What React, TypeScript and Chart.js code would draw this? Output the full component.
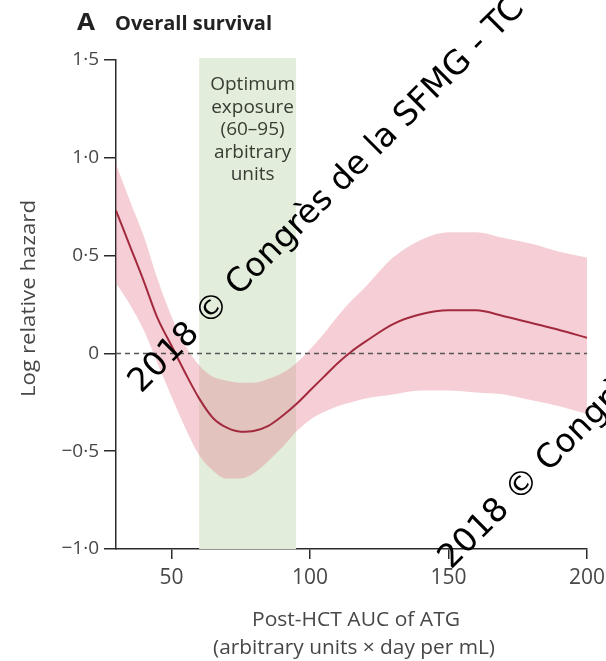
import { useEffect, useRef } from "react";
import { Chart, registerables } from "chart.js";

Chart.register(...registerables);

// Post-HCT ATG exposure (AUC) grid
const auc = [30, 35, 40, 45, 50, 55, 60, 65, 70, 75, 80, 85, 90, 95, 100, 105, 110, 115, 120, 130, 140, 150, 160, 170, 180, 190, 200];
// Log relative hazard estimate
const logHazard = [0.73, 0.55, 0.37, 0.18, 0.04, -0.1, -0.23, -0.33, -0.38, -0.4, -0.395, -0.37, -0.32, -0.26, -0.19, -0.12, -0.05, 0.01, 0.06, 0.15, 0.2, 0.22, 0.22, 0.19, 0.155, 0.12, 0.08];
// 95% confidence band
const upperCI = [0.97, 0.78, 0.6, 0.38, 0.19, 0.04, -0.06, -0.12, -0.14, -0.15, -0.15, -0.13, -0.1, -0.05, 0.02, 0.1, 0.19, 0.27, 0.34, 0.49, 0.58, 0.62, 0.62, 0.59, 0.56, 0.52, 0.49];
const lowerCI = [0.36, 0.25, 0.12, -0.05, -0.22, -0.38, -0.52, -0.6, -0.64, -0.64, -0.61, -0.55, -0.48, -0.4, -0.34, -0.3, -0.27, -0.25, -0.23, -0.21, -0.19, -0.19, -0.2, -0.21, -0.24, -0.27, -0.31];

const xTicks = [50, 100, 150, 200];
const yTicks = [-1, -0.5, 0, 0.5, 1, 1.5];
const yTickLabels = ["−1·0", "−0·5", "0", "0·5", "1·0", "1·5"];
const optimumRange = [60, 95];
const optimumLabel = ["Optimum", "exposure", "(60–95)", "arbitrary", "units"];

const panelLetter = "A";
const panelTitle = "Overall survival";
const yTitle = "Log relative hazard";
const xTitle = ["Post-HCT AUC of ATG", "(arbitrary units × day per mL)"];
const watermark = "2018 © Congrès de la SFMG - TC";

const FONT = "'Open Sans', Lato, sans-serif";
const AXIS_COLOR = "#2b2b2b";
const TEXT_COLOR = "#474747";

const pts = (ys: number[]) => auc.map((x, i) => ({ x, y: ys[i] }));

// draw a string squeezed/stretched horizontally to a given width
function fitText(ctx: CanvasRenderingContext2D, text: string, x: number, y: number, width: number) {
  const w = ctx.measureText(text).width;
  ctx.save();
  ctx.translate(x, y);
  ctx.scale(width / w, 1);
  ctx.fillText(text, 0, 0);
  ctx.restore();
}

const decorations = {
  id: "decorations",
  beforeDatasetsDraw(chart: any) {
    const { ctx, scales, chartArea } = chart;
    const x = scales.x;
    const x0 = x.getPixelForValue(optimumRange[0]);
    const x1 = x.getPixelForValue(optimumRange[1]);
    ctx.save();
    ctx.fillStyle = "#e3eddc";
    ctx.fillRect(x0, chartArea.top - 2, x1 - x0, chartArea.bottom - chartArea.top + 2);
    ctx.fillStyle = "#383d34";
    ctx.font = `19px ${FONT}`;
    ctx.textAlign = "center";
    ctx.textBaseline = "alphabetic";
    const cx = (x0 + x1) / 2 + 5;
    optimumLabel.forEach((t, i) => ctx.fillText(t, cx, 90 + i * 22.5));
    ctx.restore();
  },
  afterDraw(chart: any) {
    const { ctx } = chart;
    ctx.save();
    // panel heading
    ctx.fillStyle = "#222";
    ctx.textBaseline = "alphabetic";
    ctx.textAlign = "left";
    ctx.font = `bold 23px ${FONT}`;
    fitText(ctx, panelLetter, 77, 30, 18);
    ctx.font = `bold 20px ${FONT}`;
    fitText(ctx, panelTitle, 115, 30, 157);

    // axis titles
    ctx.fillStyle = TEXT_COLOR;
    ctx.font = `20px ${FONT}`;
    ctx.textAlign = "center";
    ctx.save();
    ctx.translate(35, 298.5);
    ctx.rotate(-Math.PI / 2);
    fitText(ctx, yTitle, 0, 0, 197);
    ctx.restore();
    ctx.font = `20px ${FONT}`;
    fitText(ctx, xTitle[0], 356, 626, 208);
    fitText(ctx, xTitle[1], 354, 654, 282);

    // diagonal watermark
    ctx.fillStyle = "#000";
    ctx.font = "33px 'DejaVu Sans'";
    ctx.textAlign = "left";
    [[141, 394], [451, 570]].forEach(([wx, wy]) => {
      ctx.save();
      ctx.translate(wx, wy);
      ctx.rotate(-Math.PI / 4);
      ctx.fillText(watermark, 0, 0);
      ctx.restore();
    });
    ctx.restore();
  },
};

export default function App() {
  const ref = useRef<HTMLCanvasElement>(null);

  useEffect(() => {
    const chart = new Chart(ref.current!, {
      type: "line",
      data: {
        datasets: [
          {
            data: pts(logHazard),
            borderColor: "#a32a3e",
            borderWidth: 2,
            pointRadius: 0,
            fill: false,
            cubicInterpolationMode: "monotone",
          },
          {
            data: [
              { x: auc[0], y: 0 },
              { x: auc[auc.length - 1], y: 0 },
            ],
            borderColor: "#555",
            borderWidth: 1.5,
            borderDash: [5, 4],
            pointRadius: 0,
            fill: false,
          },
          {
            data: pts(upperCI),
            borderWidth: 0,
            borderColor: "rgba(0,0,0,0)",
            backgroundColor: "rgba(228,122,138,0.36)",
            pointRadius: 0,
            fill: "+1",
            cubicInterpolationMode: "monotone",
          },
          {
            data: pts(lowerCI),
            borderWidth: 0,
            borderColor: "rgba(0,0,0,0)",
            pointRadius: 0,
            fill: false,
            cubicInterpolationMode: "monotone",
          },
        ],
      } as any,
      options: {
        animation: false,
        responsive: false,
        devicePixelRatio: 1,
        layout: { padding: { top: 60, right: 19, left: 0, bottom: 0 } },
        plugins: { legend: { display: false }, tooltip: { enabled: false } },
        scales: {
          x: {
            type: "linear",
            min: 30,
            max: 200,
            afterFit(scale: any) {
              scale.height = 112;
              scale.paddingLeft = 0;
              scale.paddingRight = 0;
            },
            afterBuildTicks(scale: any) {
              scale.ticks = xTicks.map((v) => ({ value: v }));
            },
            grid: {
              display: true,
              drawOnChartArea: false,
              drawTicks: true,
              tickLength: 10,
              color: AXIS_COLOR,
              lineWidth: 1.5,
            },
            border: { display: true, color: AXIS_COLOR, width: 1.5 },
            ticks: {
              color: TEXT_COLOR,
              font: { family: FONT, size: 21 },
              padding: 6,
              maxRotation: 0,
              autoSkip: false,
            },
          },
          y: {
            type: "linear",
            min: -1,
            max: 1.5,
            afterFit(scale: any) {
              scale.width = 116;
              scale.paddingTop = 0;
              scale.paddingBottom = 0;
            },
            afterBuildTicks(scale: any) {
              scale.ticks = yTicks.map((v) => ({ value: v }));
            },
            grid: {
              display: true,
              drawOnChartArea: false,
              drawTicks: true,
              tickLength: 12,
              color: AXIS_COLOR,
              lineWidth: 1.5,
            },
            border: { display: true, color: AXIS_COLOR, width: 1.5 },
            ticks: {
              color: TEXT_COLOR,
              font: { family: FONT, size: 19 },
              padding: 5,
              autoSkip: false,
              callback: (v: any) => {
                const i = yTicks.indexOf(Number(v));
                return i >= 0 ? yTickLabels[i] : "";
              },
            },
          },
        },
      },
      plugins: [decorations],
    } as any);
    return () => chart.destroy();
  }, []);

  return (
    <div style={{ position: "fixed", left: 0, top: 0, width: 606, height: 661, background: "#fff" }}>
      <canvas ref={ref} width={606} height={661} style={{ display: "block" }} />
    </div>
  );
}
